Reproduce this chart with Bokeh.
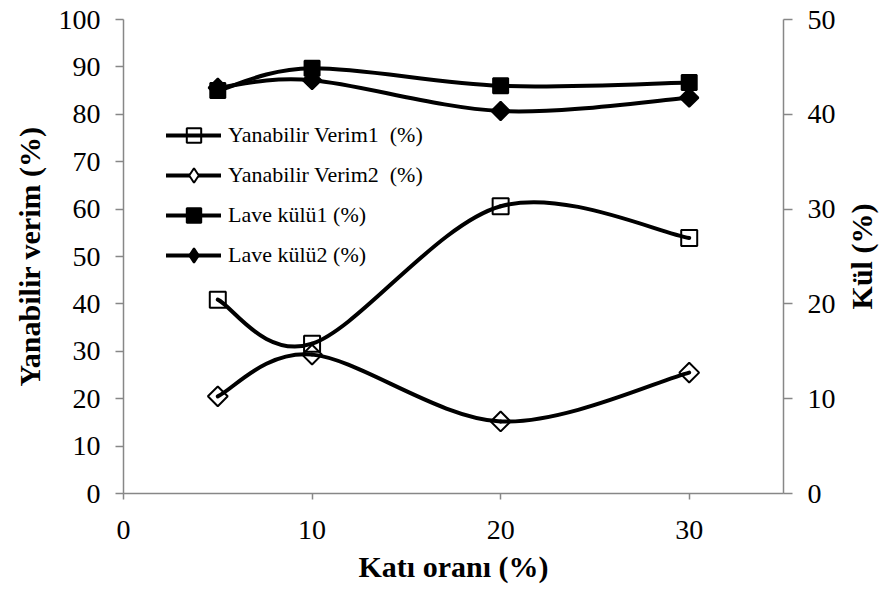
import math
import numpy as np
from bokeh.plotting import figure
from bokeh.models import (ColumnDataSource, Range1d, LinearAxis, FixedTicker,
                          Legend, LegendItem, Label)
from bokeh.embed import file_html
from bokeh.resources import INLINE

# Solid ratio (%)
kati_orani = [5, 10, 20, 30]
# Combustible yield (%), left axis
verim1 = [40.9, 31.6, 60.6, 53.9]
verim2 = [20.5, 29.3, 15.2, 25.5]
# Ash of washing (%), right axis
kul1 = [42.5, 44.85, 43.0, 43.35]
kul2 = [42.8, 43.6, 40.35, 41.75]

x_ticks = [0, 10, 20, 30]
left_ticks = [0, 10, 20, 30, 40, 50, 60, 70, 80, 90, 100]
right_ticks = [0, 10, 20, 30, 40, 50]

FONT = "Liberation Serif"
AXIS_GREY = "#878787"


def smooth_segments(xs, ys, t=1.0 / 6.0):
    """Cubic Bezier segments through the points (Catmull-Rom style smoothing)."""
    xs = np.asarray(xs, float)
    ys = np.asarray(ys, float)
    n = len(xs)
    px = np.concatenate([[xs[0]], xs, [xs[-1]]])
    py = np.concatenate([[ys[0]], ys, [ys[-1]]])
    d = dict(x0=[], y0=[], x1=[], y1=[], cx0=[], cy0=[], cx1=[], cy1=[])
    for i in range(1, n):
        d["x0"].append(px[i]); d["y0"].append(py[i])
        d["x1"].append(px[i + 1]); d["y1"].append(py[i + 1])
        d["cx0"].append(px[i] + (px[i + 1] - px[i - 1]) * t)
        d["cy0"].append(py[i] + (py[i + 1] - py[i - 1]) * t)
        d["cx1"].append(px[i + 1] - (px[i + 2] - px[i]) * t)
        d["cy1"].append(py[i + 1] - (py[i + 2] - py[i]) * t)
    return ColumnDataSource(d)


p = figure(width=880, height=590, output_backend="svg", toolbar_location=None,
           x_range=Range1d(0, 35), y_range=Range1d(0, 100),
           min_border_left=123, min_border_right=97,
           min_border_top=19, min_border_bottom=97)
p.extra_y_ranges = {"kul": Range1d(0, 50)}
p.outline_line_color = None
p.xgrid.visible = False
p.ygrid.visible = False
p.background_fill_color = "white"
p.border_fill_color = "white"


def style_axis(ax, ticks, out, standoff, label_standoff):
    ax.ticker = FixedTicker(ticks=ticks)
    ax.axis_line_color = AXIS_GREY
    ax.axis_line_width = 1.5
    ax.major_tick_line_color = AXIS_GREY
    ax.major_tick_line_width = 1.5
    ax.major_tick_in = 0
    ax.major_tick_out = out
    ax.minor_tick_line_color = None
    ax.major_label_text_font = FONT
    ax.major_label_text_font_size = "28px"
    ax.major_label_text_color = "black"
    ax.major_label_standoff = standoff
    ax.axis_label_text_font = FONT
    ax.axis_label_text_font_size = "30px"
    ax.axis_label_text_font_style = "bold"
    ax.axis_label_text_color = "black"
    ax.axis_label_standoff = label_standoff


xa = p.xaxis[0]
style_axis(xa, x_ticks, 6, 21, 8)
xa.axis_label = "Katı oranı (%)"

ya = p.yaxis[0]
style_axis(ya, left_ticks, 8, 15, 10)
ya.axis_label = "Yanabilir verim (%)"

ra = LinearAxis(y_range_name="kul")
style_axis(ra, right_ticks, 9, 15, 10)
p.add_layout(ra, "right")

# right axis title, reading bottom-to-top like the left one
p.add_layout(Label(text="Kül (%)", x=23, y=237, x_units="screen",
                   y_units="screen", angle=math.pi / 2,
                   text_align="center", text_baseline="middle",
                   text_font=FONT, text_font_size="30px",
                   text_font_style="bold", text_color="black"), "right")

LW = 4
# label, values, range, plot marker, angle, size, fill, legend marker
series = [
    ("Yanabilir Verim1  (%)", verim1, "default", "square", 0.0, 16, 0.0, "square"),
    ("Yanabilir Verim2  (%)", verim2, "default", "square", np.pi / 4, 14, 0.0, "diamond"),
    ("Lave külü1 (%)", kul1, "kul", "square", 0.0, 15, 1.0, "square"),
    ("Lave külü2 (%)", kul2, "kul", "square", np.pi / 4, 13, 1.0, "diamond"),
]

items = []
for label, ys, rng, marker, angle, size, fill, key_marker in series:
    seg = smooth_segments(kati_orani, ys)
    curve = p.bezier(x0="x0", y0="y0", x1="x1", y1="y1", cx0="cx0", cy0="cy0",
                     cx1="cx1", cy1="cy1", source=seg, line_color="black",
                     line_width=LW, line_cap="round", y_range_name=rng)
    pts = p.scatter(x=kati_orani, y=ys, marker=marker, angle=angle, size=size,
                    line_color="black", line_width=2,
                    fill_color="black", fill_alpha=fill, y_range_name=rng)
    if key_marker == marker:
        key = pts
    else:
        # hidden renderer that only provides the legend key shape
        key = p.scatter(x=kati_orani, y=ys, marker=key_marker, size=size,
                        line_color="black", line_width=2,
                        fill_color="black" if fill else "white", fill_alpha=1.0,
                        y_range_name=rng, visible=False)
    items.append(LegendItem(label=label, renderers=[curve, key]))

legend = Legend(items=items, location=(43, 220), padding=0, margin=0,
                spacing=4, glyph_width=55, glyph_height=36,
                label_standoff=7, label_height=36,
                label_text_font=FONT, label_text_font_size="22px",
                label_text_color="black", inactive_fill_alpha=0,
                border_line_color=None, background_fill_alpha=0)
p.add_layout(legend)

open("out.html", "w").write(file_html(p, INLINE))
